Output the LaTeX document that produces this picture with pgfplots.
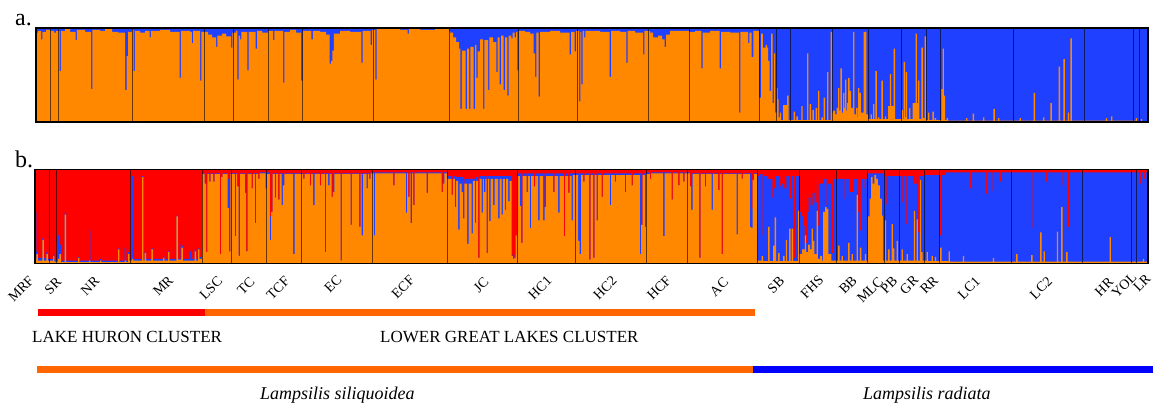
\documentclass[border=0pt]{standalone}
\usepackage{pgfplots}
\pgfplotsset{compat=1.18}
\usepackage{fontspec}
\setmainfont{Liberation Serif}
\definecolor{sorange}{HTML}{FF8800}
\definecolor{sblue}{HTML}{2040FF}
\definecolor{sred}{HTML}{FF0000}
\definecolor{borange}{HTML}{FF6600}
\definecolor{bblue}{HTML}{0000FF}
\begin{document}
\begin{tikzpicture}[x=1pt,y=1pt]
\path[use as bounding box] (0pt,0pt) rectangle (1153pt,404pt);
\pgfplotsset{strbase/.style={scale only axis, ymin=0, ymax=1, xtick=\empty, ytick=\empty,
  axis on top, axis line style={line width=1.2pt}},
  sep/.style={ycomb, no marks, draw=black, draw opacity=0.6, line width=0.9pt}}
% ---------- panel a ----------
\begin{axis}[strbase, at={(36pt,282pt)}, anchor=south west, width=1112pt, height=94pt,
  xmin=36, xmax=1148, axis background/.style={fill=sblue}]
\addplot[fill=sorange, draw=none, const plot mark left] coordinates {
(36,0.95) (38,0.97) (41,0.88) (42.4,0.96) (46,0.98) (50,0.97) (54,0.95) (56,0.97) (59.5,0.54) (60.9,0.97) (65,0.99) (70,0.96) (75.5,0.87) (76.9,0.98) (85,0.96) (91,0.35) (92.4,0.98) (100,0.97) (105,0.99) (112,0.96) (118,0.95) (125.2,0.34) (126.6,0.70) (128,0.96) (132,0.98) (133.5,0.54) (134.9,0.97) (140,0.95) (145,0.97) (149.5,0.90) (150.9,0.97) (160,0.98) (170,0.96) (179.5,0.47) (180.9,0.97) (190,0.96) (191.8,0.84) (193.2,0.97) (200,0.44) (201.4,0.96) (204,0.96) (208,0.93) (212,0.90) (216,0.80) (217.4,0.92) (222,0.94) (226,0.91) (231,0.79) (232.4,0.95) (236,0.97) (237.3,0.45) (238.7,0.92) (240,0.88) (241.4,0.96) (247.3,0.55) (248.7,0.96) (255.6,0.78) (257,0.97) (262,0.95) (268,0.97) (273,0.87) (274.4,0.97) (283,0.42) (284.4,0.96) (290,0.98) (296,0.95) (301.2,0.44) (302.6,0.97) (311.4,0.88) (312.8,0.97) (320,0.96) (326,0.93) (329.6,0.62) (331,0.65) (332.4,0.76) (333.8,0.94) (340,0.97) (350,0.96) (361.3,0.63) (362.7,0.97) (370.6,0.82) (372,0.98) (375.3,0.45) (376.7,0.99) (390,0.99) (400,0.98) (407.5,0.94) (408.9,0.99) (420,0.98) (435,0.99) (449,0.97)
(450,0.95) (453,0.9) (456,0.85) (459,0.78) (460.4,0.14) (461.8,0.76) (465.6,0.14) (467,0.78) (469,0.14) (470.4,0.8) (473.6,0.14) (475,0.82) (476.3,0.47) (477.7,0.75) (480,0.88) (483,0.14) (484.4,0.87) (488,0.34) (489.4,0.9) (493,0.85) (496.3,0.53) (497.7,0.9) (499.6,0.40) (501,0.92) (503.6,0.34) (505,0.9) (507.3,0.28) (508.7,0.92) (511.3,0.89) (512.7,0.95) (514.6,0.9) (516,0.96) (517.3,0.55) (518.7,0.97)
(525,0.96) (530,0.94) (533.6,0.73) (535,0.48) (536.4,0.95) (538.6,0.27) (540,0.96) (550,0.97) (560,0.95) (569.6,0.72) (571,0.96) (574.6,0.75) (576,0.97)
(579,0.22) (580.4,0.96) (581.3,0.40) (582.7,0.97) (584,0.9) (585.4,0.97) (600,0.96) (609.6,0.48) (611,0.97) (620,0.96) (626.3,0.63) (627.7,0.97) (635,0.95) (643,0.72) (644.4,0.97)
(650,0.95) (653,0.9) (658,0.92) (662,0.88) (664.6,0.8) (666,0.93) (670,0.97) (689,0.96)
(695,0.97) (701.3,0.57) (702.7,0.95) (710,0.97) (719.6,0.57) (721,0.96) (730,0.95) (739,0.10) (740.4,0.96) (748,0.84) (749.4,0.95) (751.5,0.69) (753.3,0.97) (758,0.97)
(759,0.26) (761,0.94) (762.8,0.79) (765.6,0.82) (767,0.79) (768,0.65) (769.5,0.33) (771.2,0.94) (772.5,0.2) (773.8,0.73) (775.2,0.1)
(776.5,0.36) (777.5,0.24) (778.6,0.05) (779.8,0.1) (781.2,0.02) (783,0.18) (787.2,0.28) (788.5,0.02)
(793.6,0.11) (795,0.02) (796.4,0.06) (797.8,0.02) (801.3,0.17) (802.7,0.02) (807,0.73) (808.4,0.02) (809.6,0.19) (811,0.02) (812.4,0.13) (813.8,0.02) (815.7,0.15) (817.1,0.02) (818,0.33) (819.4,0.02) (821.4,0.05) (822.8,0.02) (823.7,0.26) (825.1,0.02) (827,0.53) (828.4,0.02) (830.7,0.96) (832,0.1)
(833,0.12) (835,0.08) (836.5,0.15) (838,0.36) (839.4,0.12) (840.4,0.57) (841.8,0.1) (843,0.31) (844.4,0.15) (845,0.45) (846.4,0.12) (847,0.2) (848.2,0.47) (849.6,0.33) (851,0.15) (853,0.96) (854.4,0.08) (856,0.15) (857.5,0.05) (858,0.36) (859.4,0.31) (860.8,0.1) (863.6,0.96) (866.4,0.08) (868,0.03)
(870.5,0.08) (871.9,0.03) (873,0.19) (874.4,0.03) (875.4,0.54) (876.8,0.03) (878,0.05) (879.4,0.03) (881.4,0.44) (882.8,0.03) (884.8,0.06) (886.2,0.03) (888,0.17) (889.8,0.51) (891.2,0.17) (893.6,0.78) (895,0.03) (896.5,0.03)
(901.5,0.13) (902.9,0.03) (903.7,0.64) (905.1,0.05) (905.8,0.53) (907.2,0.03) (909,0.15) (910.4,0.03) (912.5,0.2) (915.5,0.94) (916.9,0.2) (918,0.44) (919.4,0.03) (921.4,0.79) (922.8,0.04) (924.7,0.91) (926.1,0.02)
(928,0.1) (929.4,0.02) (932.4,0.11) (933.8,0.02) (934.7,0.04) (936.1,0.02)
(941.4,0.35) (942.6,0.78) (943.8,0.28) (945.2,0.02) (946.5,0.04) (947.9,0.015) (966,0.04) (967.4,0.015) (972.7,0.09) (974.1,0.015) (983,0.05) (984.4,0.015) (993.4,0.14) (994.8,0.015) (998,0.04) (999.4,0.015)
(1019.5,0.04) (1020.9,0.015) (1033.7,0.31) (1035.1,0.015) (1043,0.05) (1044.4,0.015) (1050.4,0.2) (1051.8,0.015) (1058.7,0.59) (1060.1,0.015) (1063.4,0.67) (1064.8,0.015) (1067.8,0.1) (1069.2,0.015) (1070.4,0.89) (1071.8,0.015)
(1105.8,0.04) (1107.2,0.015) (1111,0.06) (1112.4,0.015) (1135.8,0.04) (1137.2,0.01) (1140.8,0.03) (1142.2,0.01) (1148,0.01)
} \closedcycle;
\addplot[sep] coordinates {(50,1) (58,1) (132,1) (204,1) (233,1) (268,1) (302,1) (373,1) (449,1) (518,1) (577,1) (648,1) (689,1) (759,1) (776,1) (790,1) (832,1) (868,1) (901,1) (926,1) (940,1) (1013,1) (1084,1) (1133,1) (1139,1)};
\end{axis}
% ---------- panel b ----------
\begin{axis}[strbase, at={(35pt,140.5pt)}, anchor=south west, width=1113pt, height=94pt,
  xmin=35, xmax=1148, axis background/.style={fill=sred}]
% blue top (orange + blue)
\addplot[fill=sblue, draw=none, const plot mark left] coordinates {
(35,0.55) (36.4,0.13) (37.8,0.06) (42.4,0.27) (43.8,0.06) (46.4,0.12) (47.8,0.05) (53,0.1) (54.4,0.04) (58,0.3) (59.4,0.2) (60.8,0.03) (64.7,0.54) (66.1,0.03) (78,0.07) (79.4,0.03) (89,0.35) (90.4,0.03) (100,0.05) (101.4,0.03) (118,0.16) (119.4,0.03) (124.7,0.17) (126.1,0.03) (128,0.12) (129.4,0.05) (132,0.93) (133.4,0.05) (142,0.93) (143.4,0.05) (144.7,0.12) (146.1,0.05) (151.4,0.16) (152.8,0.05) (163,0.08) (164.4,0.05) (168,0.13) (169.4,0.05) (176.4,0.51) (177.8,0.05) (179,0.21) (180.4,0.05) (181.4,0.19) (182.8,0.05) (190,0.13) (191.4,0.05) (194.7,0.15) (196.1,0.05) (198,0.16) (199.4,0.07)
(202,0.96) (204.6,0.85) (206,0.12) (207.4,0.96) (209.2,0.87) (210.6,0.96) (213.2,0.87) (214.6,0.96) (219.8,0.1) (221.2,0.92) (222.6,0.96) (227.5,0.9) (228.9,0.13) (230.3,0.96)
(234.8,0.29) (236.2,0.96) (237.2,0.82) (238.6,0.08) (240,0.96) (244.8,0.95) (246.2,0.13) (247.6,0.96) (251.5,0.8) (252.9,0.96) (254.8,0.43) (256.2,0.96) (258.2,0.9) (259.6,0.97)
(269.8,0.5) (271.2,0.55) (272.6,0.96) (278.2,0.68) (279.6,0.96) (282.9,0.83) (284.3,0.96)
(303.2,0.9) (304.6,0.96) (309.8,0.83) (311.2,0.96) (319.8,0.83) (321.2,0.96) (324.8,0.12) (326.2,0.96) (331.5,0.71) (332.9,0.96) (340.5,0.03) (341.9,0.96) (350.5,0.41) (351.9,0.96) (359.2,0.39) (360.6,0.96) (369.2,0.9) (370.6,0.97)
(393.2,0.83) (394.6,0.97) (408.2,0.71) (409.6,0.97) (410.6,0.43) (412,0.97) (413.2,0.62) (414.6,0.97) (426.6,0.75) (428,0.97) (441.5,0.76) (442.9,0.97)
(447,0.93) (451.5,0.73) (452.9,0.93) (454.8,0.6) (456.2,0.92) (462.9,0.48) (464.3,0.9) (474.8,0.43) (476.2,0.92) (478.2,0.06) (479.6,0.93) (486.5,0.11) (487.9,0.93) (504.8,0.57) (506.2,0.93) (511.5,0.08) (512.9,0.1) (514.3,0.06) (515.7,0.3) (517,0.96)
(521.2,0.22) (522.6,0.96) (526.5,0.76) (527.9,0.96) (533.8,0.82) (535.2,0.96) (544.6,0.6) (546,0.96) (553.2,0.76) (554.6,0.96) (563.8,0.29) (565.2,0.96) (568.2,0.75) (569.6,0.96)
(583.2,0.87) (584.6,0.96) (589.2,0.04) (590.6,0.96) (593.2,0.06) (594.6,0.96) (596.5,0.46) (597.9,0.96) (601.5,0.71) (602.9,0.96) (614.8,0.87) (616.2,0.96) (624.8,0.76) (626.2,0.96) (631.5,0.83) (632.9,0.96) (641.2,0.41) (642.6,0.96) (646.2,0.97)
(649.8,0.9) (651.2,0.97) (671.5,0.68) (672.9,0.97) (678.2,0.83) (679.6,0.97) (683.2,0.87) (684.6,0.97)
(689.8,0.82) (691.2,0.96) (699.2,0.06) (700.6,0.96) (704.8,0.82) (706.2,0.96) (718.2,0.78) (719.6,0.96) (721.5,0.1) (722.9,0.96) (741.5,0.9) (742.9,0.96) (751.2,0.58) (752.6,0.89) (754,0.96) (757,0.93)
(759,0.95) (762.6,0.3) (764,0.93) (768,0.9) (772.4,0.7) (773.8,0.8) (775.2,0.93) (780,0.82) (782,0.85) (784,0.8) (786.4,0.93) (789.8,0.69) (791.2,0.93) (793.6,0.06) (795,0.93) (799.4,0.55)
(801,0.5) (803,0.22) (804.4,0.4) (805.8,0.22) (807.2,0.55) (808.6,0.7) (810.5,0.62) (812.5,0.75) (814.5,0.65) (816.8,0.85) (818,0.4) (819.4,0.85) (823,0.9) (826.5,0.62) (827.9,0.85) (831.8,0.11) (833.2,0.9)
(843,0.69) (844.4,0.9) (849.8,0.76) (853.6,0.9) (858,0.55) (859.4,0.35) (860.8,0.9) (863,0.8) (864.4,0.9) (867,0.96)
(884,0.93) (886.3,0.63) (887.7,0.93) (901.3,0.65) (902.7,0.93) (906.3,0.42) (907.7,0.93) (912.8,0.85) (916.8,0.93) (918,0.33) (919.4,0.93)
(924,0.94) (939.5,0.3) (942,0.94) (945,0.97)
(969.4,0.8) (970.8,0.97) (985.4,0.74) (986.8,0.97) (991,0.77) (992.4,0.97) (999.4,0.87) (1000.8,0.97)
(1031,0.38) (1032.4,0.97) (1046,0.87) (1047.4,0.97) (1061,0.83) (1062.4,0.97) (1067.8,0.39) (1069.2,0.97)
(1106.8,0.9) (1108.2,0.97) (1132.8,0.9) (1134.2,0.97) (1139.4,0.85) (1140.8,0.97) (1143.4,0.9) (1144.8,0.97) (1148,0.97)
} \closedcycle;
% orange
\addplot[fill=sorange, draw=none, const plot mark left] coordinates {
(35,0.05) (36.4,0.1) (37.8,0.03) (42.4,0.25) (43.8,0.03) (46.4,0.1) (47.8,0.03) (53,0.08) (54.4,0.02) (58,0.05) (59.4,0.1) (60.8,0.015) (64.7,0.52) (66.1,0.015) (78,0.06) (79.4,0.015) (89,0.03) (90.4,0.015) (100,0.03) (101.4,0.015) (118,0.15) (119.4,0.015) (124.7,0.03) (126.1,0.015) (128,0.1) (129.4,0.03) (132,0.05) (133.4,0.03) (142,0.92) (143.4,0.03) (144.7,0.11) (146.1,0.03) (151.4,0.15) (152.8,0.03) (163,0.06) (164.4,0.03) (168,0.12) (169.4,0.03) (176.4,0.5) (177.8,0.04) (181.4,0.17) (182.8,0.03) (190,0.03) (194.7,0.13) (196.1,0.03) (198,0.15) (199.4,0.05)
(202,0.95) (204.6,0.85) (206,0.12) (207.4,0.95) (209.2,0.87) (210.6,0.95) (213.2,0.87) (214.6,0.95) (219.8,0.1) (221.2,0.92) (222.6,0.95) (227.5,0.59) (228.9,0.13) (230.3,0.95)
(234.8,0.29) (236.2,0.95) (237.2,0.82) (238.6,0.08) (240,0.95) (244.8,0.75) (246.2,0.13) (247.6,0.95) (251.5,0.8) (252.9,0.95) (254.8,0.43) (256.2,0.95) (258.2,0.9) (259.6,0.96) (265.5,0.8) (266.9,0.95)
(269.8,0.25) (271.2,0.55) (272.6,0.95) (274.8,0.7) (276.2,0.95) (278.2,0.68) (279.6,0.95) (281.5,0.62) (282.9,0.83) (284.3,0.95) (293.2,0.1) (294.6,0.95)
(303.2,0.9) (304.6,0.95) (309.8,0.83) (311.2,0.95) (313.2,0.62) (314.6,0.95) (319.8,0.83) (321.2,0.95) (324.8,0.12) (326.2,0.95) (328.2,0.83) (329.6,0.95) (331.5,0.71) (332.9,0.76) (334.3,0.95) (340.5,0.03) (341.9,0.95) (350.5,0.41) (351.9,0.95) (359.2,0.39) (360.6,0.95) (361.6,0.3) (363,0.95) (366.5,0.8) (367.9,0.95) (369.2,0.9) (370.6,0.96)
(373.8,0.3) (375.2,0.96) (393.2,0.83) (394.6,0.96) (405.8,0.54) (407.2,0.96) (408.2,0.71) (409.6,0.96) (410.6,0.43) (412,0.96) (413.2,0.62) (414.6,0.96) (426.6,0.75) (428,0.96) (441.5,0.76) (442.9,0.85) (444.3,0.96)
(447,0.9) (451.5,0.73) (452.9,0.9) (454.8,0.6) (456.2,0.88) (458.2,0.36) (459.6,0.85) (461.5,0.76) (462.9,0.48) (464.3,0.85) (467.2,0.21) (468.6,0.85) (471.5,0.32) (472.9,0.88) (474.8,0.43) (476.2,0.88) (478.2,0.06) (479.6,0.9) (481.5,0.54) (482.9,0.9) (483.9,0.76) (485.3,0.9) (486.5,0.11) (487.9,0.9) (489.2,0.45) (490.6,0.9) (493.2,0.62) (494.6,0.9) (498.2,0.48) (499.6,0.9) (501.5,0.52) (502.9,0.9) (504.8,0.57) (506.2,0.9) (508.2,0.66) (509.6,0.88) (511.5,0.08) (512.9,0.05) (514.3,0.06) (515.7,0.3) (517,0.93)
(519.8,0.61) (521.2,0.22) (522.6,0.93) (526.5,0.76) (527.9,0.93) (529.8,0.38) (531.2,0.93) (533.8,0.82) (535.2,0.93) (538.2,0.46) (539.6,0.93) (543.2,0.46) (544.6,0.6) (546,0.93) (553.2,0.76) (554.6,0.93) (558.2,0.54) (559.6,0.93) (563.8,0.29) (565.2,0.93) (568.2,0.75) (569.6,0.93) (571.5,0.46) (572.9,0.94)
(578.2,0.24) (579.6,0.1) (581,0.94) (583.2,0.87) (584.6,0.94) (589.2,0.04) (590.6,0.94) (593.2,0.06) (594.6,0.94) (596.5,0.46) (597.9,0.94) (601.5,0.71) (602.9,0.94) (609.8,0.62) (611.2,0.94) (614.8,0.87) (616.2,0.94) (624.8,0.76) (626.2,0.94) (631.5,0.83) (632.9,0.94) (639.8,0.1) (641.2,0.41) (642.6,0.94) (644.8,0.39) (646.2,0.95)
(649.8,0.9) (651.2,0.96) (663.2,0.29) (664.6,0.96) (671.5,0.68) (672.9,0.96) (678.2,0.83) (679.6,0.96) (683.2,0.87) (684.6,0.96)
(689.8,0.82) (691.2,0.57) (692.6,0.95) (699.2,0.06) (700.6,0.95) (704.8,0.82) (706.2,0.95) (711.5,0.57) (712.9,0.95) (718.2,0.78) (719.6,0.95) (721.5,0.1) (722.9,0.95) (736.5,0.31) (737.9,0.95) (741.5,0.9) (742.9,0.95) (749.8,0.39) (751.2,0.38) (752.6,0.89) (754,0.95) (757,0.03)
(761.6,0.08) (763,0.025) (768.2,0.39) (769.6,0.025) (773.2,0.19) (774.6,0.49) (776,0.025) (778.2,0.11) (779.6,0.025) (783.2,0.08) (784.6,0.025) (785.8,0.25) (787.2,0.025) (789.2,0.37) (790.6,0.025) (791.6,0.37) (793,0.025) (798,0.56) (799.4,0.1)
(802,0.15) (804.8,0.3) (806.2,0.12) (808,0.2) (810,0.15) (811.5,0.37) (812.9,0.24) (814.3,0.1) (816.5,0.56) (817.9,0.05) (820,0.08) (822,0.03) (823.2,0.55) (825,0.6) (826.5,0.58) (828.3,0.1) (830,0.1) (831.4,0.03)
(838.2,0.19) (839.6,0.03) (841.5,0.08) (842.9,0.03) (848.2,0.22) (849.6,0.03) (851.5,0.1) (852.9,0.03) (856.5,0.73) (857.9,0.03) (859.9,0.17) (861.3,0.03) (864.8,0.1) (866.2,0.03)
(867.5,0.5) (869.5,0.69) (871,0.92) (872.6,0.85) (874.4,0.94) (876,0.9) (877.8,0.83) (879.8,0.69) (881.8,0.51) (883.2,0.03)
(884.8,0.46) (886.2,0.03) (888.2,0.15) (889.6,0.03) (891.5,0.42) (892.9,0.16) (894.3,0.03) (896.5,0.24) (897.9,0.03)
(901.5,0.15) (902.9,0.03) (906.5,0.1) (907.9,0.03) (913.8,0.56) (915.2,0.03) (916.5,0.47) (917.9,0.03) (919.8,0.89) (921.2,0.12) (922.6,0.03)
(926.5,0.12) (927.9,0.025) (931.5,0.08) (932.9,0.025) (934.8,0.07) (936.2,0.025)
(940.2,0.17) (941.6,0.025) (948.5,0.13) (949.9,0.02) (962.8,0.08) (964.2,0.02) (992.8,0.06) (994.2,0.02)
(1016.2,0.1) (1017.6,0.02) (1031.2,0.09) (1032.6,0.02) (1040.2,0.33) (1041.6,0.02) (1043.5,0.13) (1044.9,0.02) (1056.8,0.34) (1058.2,0.02) (1061.2,0.6) (1062.6,0.02) (1066.2,0.12) (1067.6,0.02)
(1109.5,0.28) (1110.9,0.02) (1142.8,0.05) (1144.2,0.02) (1148,0.02)
} \closedcycle;
\addplot[sep] coordinates {(49,1) (56,1) (130,1) (202,1) (231,1) (266,1) (301,1) (372,1) (447,1) (517,1) (575,1) (646,1) (687,1) (757,1) (799,1) (836,1) (867,1) (884,1) (899,1) (924,1) (939,1) (1011,1) (1082,1) (1131,1) (1136,1)};
\end{axis}
% ---------- annotations ----------
\node[anchor=base west, inner sep=0, font=\fontsize{24}{26}\selectfont] at (15pt,378pt) {a.};
\node[anchor=base west, inner sep=0, font=\fontsize{24}{26}\selectfont] at (15pt,236pt) {b.};
\begin{scope}[every node/.style={rotate=45, inner sep=0, font=\fontsize{14}{16}\selectfont}]
\node at (21pt,115pt) {MRF}; \node at (53pt,118pt) {SR}; \node at (90pt,118pt) {NR}; \node at (163pt,118pt) {MR};
\node at (211pt,116pt) {LSC}; \node at (246pt,118pt) {TC}; \node at (278pt,116pt) {TCF}; \node at (333pt,120pt) {EC};
\node at (403pt,117pt) {ECF}; \node at (481pt,119pt) {JC}; \node at (540pt,116pt) {HC1}; \node at (605pt,116pt) {HC2};
\node at (659pt,116pt) {HCF}; \node at (719pt,117pt) {AC}; \node at (776pt,119pt) {SB}; \node at (812pt,117pt) {FHS};
\node at (848pt,119pt) {BB}; \node at (870pt,114pt) {MLC}; \node at (889pt,119pt) {PB}; \node at (909pt,119pt) {GR};
\node at (929pt,119pt) {RR}; \node at (969pt,116pt) {LC1}; \node at (1041pt,116pt) {LC2}; \node at (1104pt,117pt) {HR};
\node at (1124pt,119pt) {YOL}; \node at (1142pt,121pt) {LR};
\end{scope}
\fill[sred] (38pt,87.5pt) rectangle (205pt,94.5pt);
\fill[borange] (205pt,87.5pt) rectangle (755pt,94.5pt);
\node[anchor=base west, inner sep=0, font=\fontsize{17}{19}\selectfont] at (32pt,61.7pt) {LAKE HURON CLUSTER};
\node[anchor=base west, inner sep=0, font=\fontsize{17}{19}\selectfont] at (380pt,61.7pt) {LOWER GREAT LAKES CLUSTER};
\fill[borange] (37pt,30.5pt) rectangle (753pt,38pt);
\fill[bblue] (753pt,30.5pt) rectangle (1153pt,38pt);
\node[anchor=base west, inner sep=0, font=\fontsize{18}{20}\selectfont\itshape] at (260pt,5pt) {Lampsilis siliquoidea};
\node[anchor=base west, inner sep=0, font=\fontsize{18}{20}\selectfont\itshape] at (863pt,5pt) {Lampsilis radiata};
\end{tikzpicture}
\end{document}
